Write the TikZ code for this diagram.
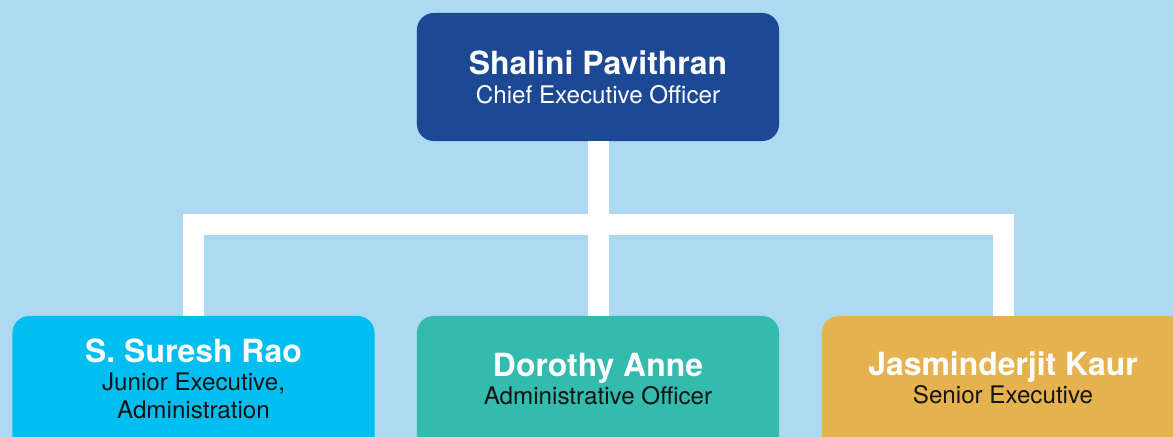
\documentclass[tikz,border=0pt]{standalone}
\usepackage{fontspec}
\setmainfont{TeX Gyre Heros}

\definecolor{skyback}{RGB}{173,217,242}
\definecolor{ceoblue}{RGB}{29,72,148}
\definecolor{raocyan}{RGB}{0,191,240}
\definecolor{anneteal}{RGB}{51,187,174}
\definecolor{kaurgold}{RGB}{230,178,80}
\definecolor{subdark}{RGB}{20,20,20}

\tikzset{
    box/.style={rounded corners=0.42cm, minimum width=9.05cm, inner sep=0pt},
    topbox/.style={box, fill=ceoblue, minimum height=3.2cm},
    lowbox/.style={box, minimum height=3.75cm},
    conn/.style={draw=white, line width=0.525cm},
    persontext/.style={anchor=base, inner sep=0pt, text=white, font=\fontsize{22.7}{26}\selectfont\bfseries},
    roletext/.style={anchor=base, inner sep=0pt, text=subdark, font=\fontsize{17.2}{20}\selectfont}
}

\begin{document}
\begin{tikzpicture}[x=0.025cm, y=-0.025cm]
            \useasboundingbox (0, 0) rectangle (1173, 436);
            \clip (-4, -4) rectangle (1177, 440);
            \fill[skyback] (-4, -4) rectangle (1177, 440);

            \node[topbox] (ceo) at (598, 77) {};
            \node[lowbox, fill=raocyan] (rao) at (193.5, 391) {};
            \node[lowbox, fill=anneteal] (anne) at (598, 391) {};
            \node[lowbox, fill=kaurgold] (kaur) at (1003, 391) {};

            \coordinate (bar) at (598, 224);
            \draw[conn] (ceo.south) -- (anne.north);
            \draw[conn] (rao.north) |- (bar) -| (kaur.north);

            \node[persontext] (ceoname) at (598, 74) {Shalini Pavithran};
            \node[roletext, text=white] (ceorole) at (598, 103) {Chief Executive Officer};

            \node[persontext] (raoname) at (193.5, 362) {S. Suresh Rao};
            \node[roletext] (raorole) at (193.5, 390) {Junior Executive,};
            \node[roletext] (raounit) at (193.5, 418) {Administration};

            \node[persontext] (annename) at (598, 376) {Dorothy Anne};
            \node[roletext] (annerole) at (598, 404) {Administrative Officer};

            \node[persontext] (kaurname) at (1003, 375) {Jasminderjit Kaur};
            \node[roletext] (kaurrole) at (1003, 403) {Senior Executive};
\end{tikzpicture}
\end{document}
